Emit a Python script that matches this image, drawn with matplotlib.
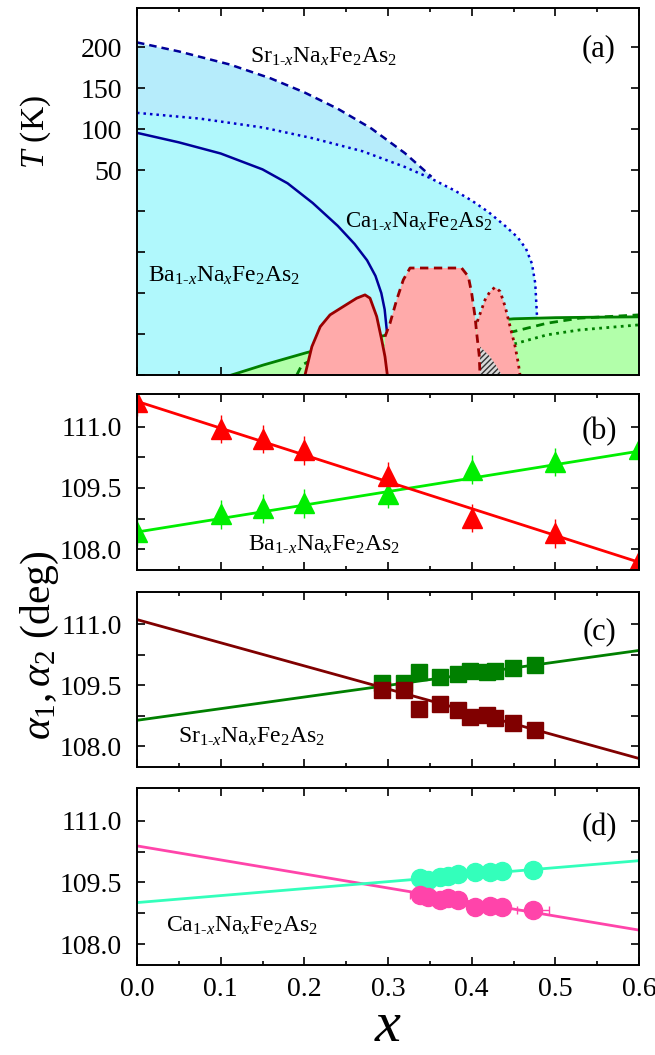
import matplotlib
matplotlib.use('Agg')
import matplotlib.pyplot as plt
from matplotlib.ticker import MultipleLocator

plt.rcParams['font.family'] = 'Liberation Serif'
plt.rcParams['mathtext.fontset'] = 'custom'
plt.rcParams['mathtext.rm'] = 'Liberation Serif'
plt.rcParams['mathtext.it'] = 'Liberation Serif:italic'
plt.rcParams['hatch.color'] = '#333333'
plt.rcParams['hatch.linewidth'] = 1.0

# ---- panel (a): phase diagram, T in K ----
sr_tn_x = [0, 0.05, 0.111, 0.16, 0.2, 0.24, 0.28, 0.32, 0.352]
sr_tn_T = [203, 197.5, 189.5, 181, 172.5, 162.5, 150.5, 135.5, 121]
ca_tn_x = [0, 0.075, 0.151, 0.21, 0.27, 0.32, 0.35, 0.38, 0.40, 0.42, 0.44,
           0.455, 0.465, 0.472, 0.476, 0.478]
ca_tn_T = [160, 156.5, 151, 144.5, 136.5, 127, 120.3, 112.5, 106.5, 99.5, 91,
           84, 77, 68, 56, 36.7]
ba_tn_x = [0, 0.05, 0.1, 0.15, 0.18, 0.21, 0.24, 0.26, 0.275, 0.285, 0.292, 0.296, 0.2985]
ba_tn_T = [147.8, 142, 135.2, 125.5, 117, 105, 91, 80, 70, 60.5, 50, 40, 27.5]

ba_sc_x = [0.113, 0.151, 0.203, 0.25, 0.30, 0.35, 0.40, 0.45, 0.5, 0.55, 0.6]
ba_sc_T = [0, 6.1, 13.7, 19.5, 24.5, 28.5, 32, 34.3, 35, 35.3, 35.5]
sr_sc_x = [0.191, 0.197, 0.22, 0.3, 0.4, 0.45, 0.49, 0.529, 0.6]
sr_sc_T = [0, 6.1, 12, 18, 23, 26.5, 31.6, 34.7, 36.7]
ca_sc_x = [0.30, 0.40, 0.454, 0.49, 0.529, 0.6]
ca_sc_T = [0, 12, 19.4, 24.5, 27.5, 30.6]

ba_dome_x = [0.2008, 0.209, 0.219, 0.2307, 0.2466, 0.2626, 0.2725, 0.2785, 0.2865, 0.2925, 0.2964, 0.2992]
ba_dome_T = [0, 17.3, 29.5, 36.7, 41.8, 46.9, 48.9, 46.9, 35.7, 21.4, 11.2, 0]
sr_dome_x = [0.2964, 0.3024, 0.3104, 0.3183, 0.3263, 0.388, 0.396, 0.400, 0.404, 0.406, 0.409, 0.41]
sr_dome_T = [23.4, 31.6, 45.9, 58.1, 65.3, 65.3, 60.1, 50, 35.7, 25.5, 12, 0]
ca_dome_x = [0.4067, 0.416, 0.422, 0.428, 0.434, 0.44, 0.446, 0.452, 0.4557, 0.4578]
ca_dome_T = [32.6, 45.9, 51, 53.6, 51, 41.8, 29.5, 17.3, 7.2, 0]
hatch_x = [0.41, 0.414, 0.422, 0.430, 0.436, 0.41]
hatch_T = [17.3, 15.3, 11.2, 5.1, 0, 0]

# ---- panel (b): Ba ----
b_x = [0, 0.1, 0.15, 0.2, 0.3, 0.4, 0.5, 0.6]
b_a1 = [111.60, 110.94, 110.70, 110.42, 109.78, 108.76, 108.39, 107.70]
b_a2 = [108.43, 108.85, 109.00, 109.12, 109.36, 109.95, 110.13, 110.46]
b_err = 0.35
b_fit_a1 = [111.62, 107.68]
b_fit_a2 = [108.42, 110.40]

# ---- panel (c): Sr ----
c_x = [0.2925, 0.319, 0.3375, 0.362, 0.384, 0.398, 0.418, 0.428, 0.449, 0.4757]
c_a2 = [109.57, 109.57, 109.82, 109.71, 109.78, 109.86, 109.83, 109.86, 109.92, 110.00]
c_a1 = [109.39, 109.39, 108.92, 109.04, 108.90, 108.73, 108.78, 108.69, 108.57, 108.39]
c_fit_a1 = [111.12, 107.70]
c_fit_a2 = [108.64, 110.36]

# ---- panel (d): Ca ----
d_x = [0.3382, 0.3482, 0.3621, 0.3721, 0.3841, 0.4040, 0.4219, 0.4359, 0.4737]
d_a2 = [109.60, 109.56, 109.64, 109.66, 109.71, 109.76, 109.76, 109.78, 109.80]
d_a1 = [109.20, 109.15, 109.07, 109.11, 109.07, 108.91, 108.93, 108.90, 108.83]
d_xerr = [0.012, 0, 0, 0, 0, 0.004, 0, 0, 0.019]
d_fit_a1 = [110.39, 108.34]
d_fit_a2 = [109.01, 110.03]

fit_x = [0, 0.6]
x_ticks = [0.0, 0.1, 0.2, 0.3, 0.4, 0.5, 0.6]
x_ticklabels = ['0.0', '0.1', '0.2', '0.3', '0.4', '0.5', '0.6']

W, H = 655, 1055
fig = plt.figure(figsize=(W / 100, H / 100), dpi=100)


def rect(top, bottom, left=137, right=639):
    return [left / W, 1 - bottom / H, (right - left) / W, (bottom - top) / H]


def formula(el):
    return el + r'$_{1\text{-}x}$Na$_{x}$Fe$_{2}$As$_{2}$'


def style(ax, show_x=False):
    ax.set_xlim(0, 0.6)
    ax.set_xticks(x_ticks)
    ax.set_xticklabels(x_ticklabels if show_x else [''] * len(x_ticks))
    ax.xaxis.set_minor_locator(MultipleLocator(0.05))
    ax.tick_params(which='both', direction='in', top=True, right=True, width=1.2)
    ax.tick_params(which='major', length=6, labelsize=20)
    ax.tick_params(which='minor', length=3)
    ax.tick_params(axis='y', pad=11)
    ax.tick_params(axis='x', pad=9)
    for s in ax.spines.values():
        s.set_linewidth(1.4)
        s.set_zorder(10)


ax_a = fig.add_axes(rect(8, 375))
ax_b = fig.add_axes(rect(394, 570))
ax_c = fig.add_axes(rect(592, 767))
ax_d = fig.add_axes(rect(788, 965))

# panel (a)
blue_sr = '#b6ecfb'
blue_ca = '#b0f8fc'
green_fill = '#b2ffaa'
green_line = '#008000'
red_fill = '#ffaaaa'
red_line = '#990000'
navy = '#000099'

ax = ax_a
ax.fill_between(sr_tn_x, 0, sr_tn_T, color=blue_sr, lw=0, zorder=1)
ax.fill_between(ca_tn_x, 0, ca_tn_T, color=blue_ca, lw=0, zorder=1)
ax.fill_between(ba_tn_x, 0, ba_tn_T, color=blue_ca, lw=0, zorder=1)
ax.plot(sr_tn_x, sr_tn_T, color=navy, lw=1.8, ls=(0, (3, 2)), zorder=2)
ax.plot(ca_tn_x, ca_tn_T, color='#0000cc', lw=1.8, ls=(0, (1, 1.6)), zorder=2)
ax.plot(ba_tn_x, ba_tn_T, color=navy, lw=1.8, zorder=2)

for xs, ts in [(ba_sc_x, ba_sc_T), (sr_sc_x, sr_sc_T), (ca_sc_x, ca_sc_T)]:
    ax.fill_between(xs, 0, ts, color=green_fill, lw=0, zorder=3)
ax.plot(ba_sc_x, ba_sc_T, color=green_line, lw=2, zorder=4)
ax.plot(sr_sc_x, sr_sc_T, color=green_line, lw=2, ls=(0, (3, 2)), zorder=4)
ax.plot(ca_sc_x, ca_sc_T, color=green_line, lw=2, ls=(0, (1, 1.6)), zorder=4)

ax.fill([sr_dome_x[0]] + sr_dome_x, [0] + sr_dome_T, color=red_fill, lw=0, zorder=5)
ax.fill([ca_dome_x[0] - 0.002] + ca_dome_x, [0] + ca_dome_T, color=red_fill, lw=0, zorder=5)
ax.fill(ba_dome_x, ba_dome_T, color=red_fill, lw=0, zorder=5)
ax.fill(hatch_x, hatch_T, facecolor='#d8d8d8', hatch='//////', edgecolor='#333333', lw=0, zorder=6)
ax.plot(sr_dome_x, sr_dome_T, color=red_line, lw=2, ls=(0, (3, 2)), zorder=7)
ax.plot(ca_dome_x, ca_dome_T, color=red_line, lw=2, ls=(0, (1, 1.6)), zorder=7)
ax.plot(ba_dome_x, ba_dome_T, color=red_line, lw=2, zorder=7)

ax.set_ylim(0, 224)
ax.set_yticks([0, 25, 50, 75, 100, 125, 150, 175, 200])
ax.set_yticklabels(['', '', '', '', '', '50', '100', '150', '200'])
style(ax)
ax.text(0.135, 190.6, formula('Sr'), fontsize=17, va='baseline', zorder=9)
ax.text(0.249, 89.7, formula('Ca'), fontsize=16.5, va='baseline', zorder=9)
ax.text(0.013, 57.1, formula('Ba'), fontsize=17, va='baseline', zorder=9)
ax.text(0.92, 0.888, '(a)', transform=ax.transAxes, fontsize=22, ha='center', va='center')


# panels (b)-(d)
def angle_panel(ax, label, name, name_pos, show_x=False):
    ax.set_ylim(107.49, 111.8)
    ax.set_yticks([108.0, 108.75, 109.5, 110.25, 111.0])
    ax.set_yticklabels(['108.0', '', '109.5', '', '111.0'])
    style(ax, show_x)
    ax.text(name_pos[0], name_pos[1], formula(name), fontsize=17, va='baseline')
    ax.text(0.921, label[1], label[0], transform=ax.transAxes, fontsize=22,
            ha='center', va='center')


ax = ax_b
ax.plot(fit_x, b_fit_a2, color='#00ee00', lw=2)
ax.plot(fit_x, b_fit_a1, color='#ff0000', lw=2)
ax.errorbar(b_x, b_a2, yerr=b_err, fmt='none', ecolor='#00ee00', elinewidth=1)
ax.errorbar(b_x, b_a1, yerr=b_err, fmt='none', ecolor='#ff0000', elinewidth=1)
ax.plot(b_x, b_a2, '^', color='#00ee00', ms=14)
ax.plot(b_x, b_a1, '^', color='#ff0000', ms=14)
angle_panel(ax, ('(b)', 0.784), 'Ba', (0.133, 107.96))

ax = ax_c
ax.plot(fit_x, c_fit_a1, color='#800000', lw=2)
ax.plot(fit_x, c_fit_a2, color='#008000', lw=2)
ax.plot(c_x, c_a2, 's', color='#008000', ms=12)
ax.plot(c_x, c_a1, 's', color='#800000', ms=12)
angle_panel(ax, ('(c)', 0.771), 'Sr', (0.049, 108.10))

ax = ax_d
ax.plot(fit_x, d_fit_a1, color='#ff44aa', lw=2)
ax.plot(fit_x, d_fit_a2, color='#33ffbb', lw=2)
ax.plot(d_x, d_a2, 'o', color='#33ffbb', ms=13)
ax.errorbar(d_x, d_a1, xerr=d_xerr, fmt='none', ecolor='#ff44aa', elinewidth=1, capsize=3)
ax.plot(d_x, d_a1, 'o', color='#ff44aa', ms=13)
angle_panel(ax, ('(d)', 0.774), 'Ca', (0.035, 108.30), show_x=True)

fig.text(36 / W, 1 - 132 / H, r'$T$ (K)', rotation=90, fontsize=24, ha='center', va='center')
fig.text(40 / W, 1 - 645 / H, r'$\alpha_{\mathit{1}}, \alpha_{\mathit{2}}$ (deg)', rotation=90,
         fontsize=30, ha='center', va='center')
fig.text(388 / W, 1 - 1027 / H, r'$x$', fontsize=42, ha='center', va='center')

fig.savefig('out.png', dpi=100)
